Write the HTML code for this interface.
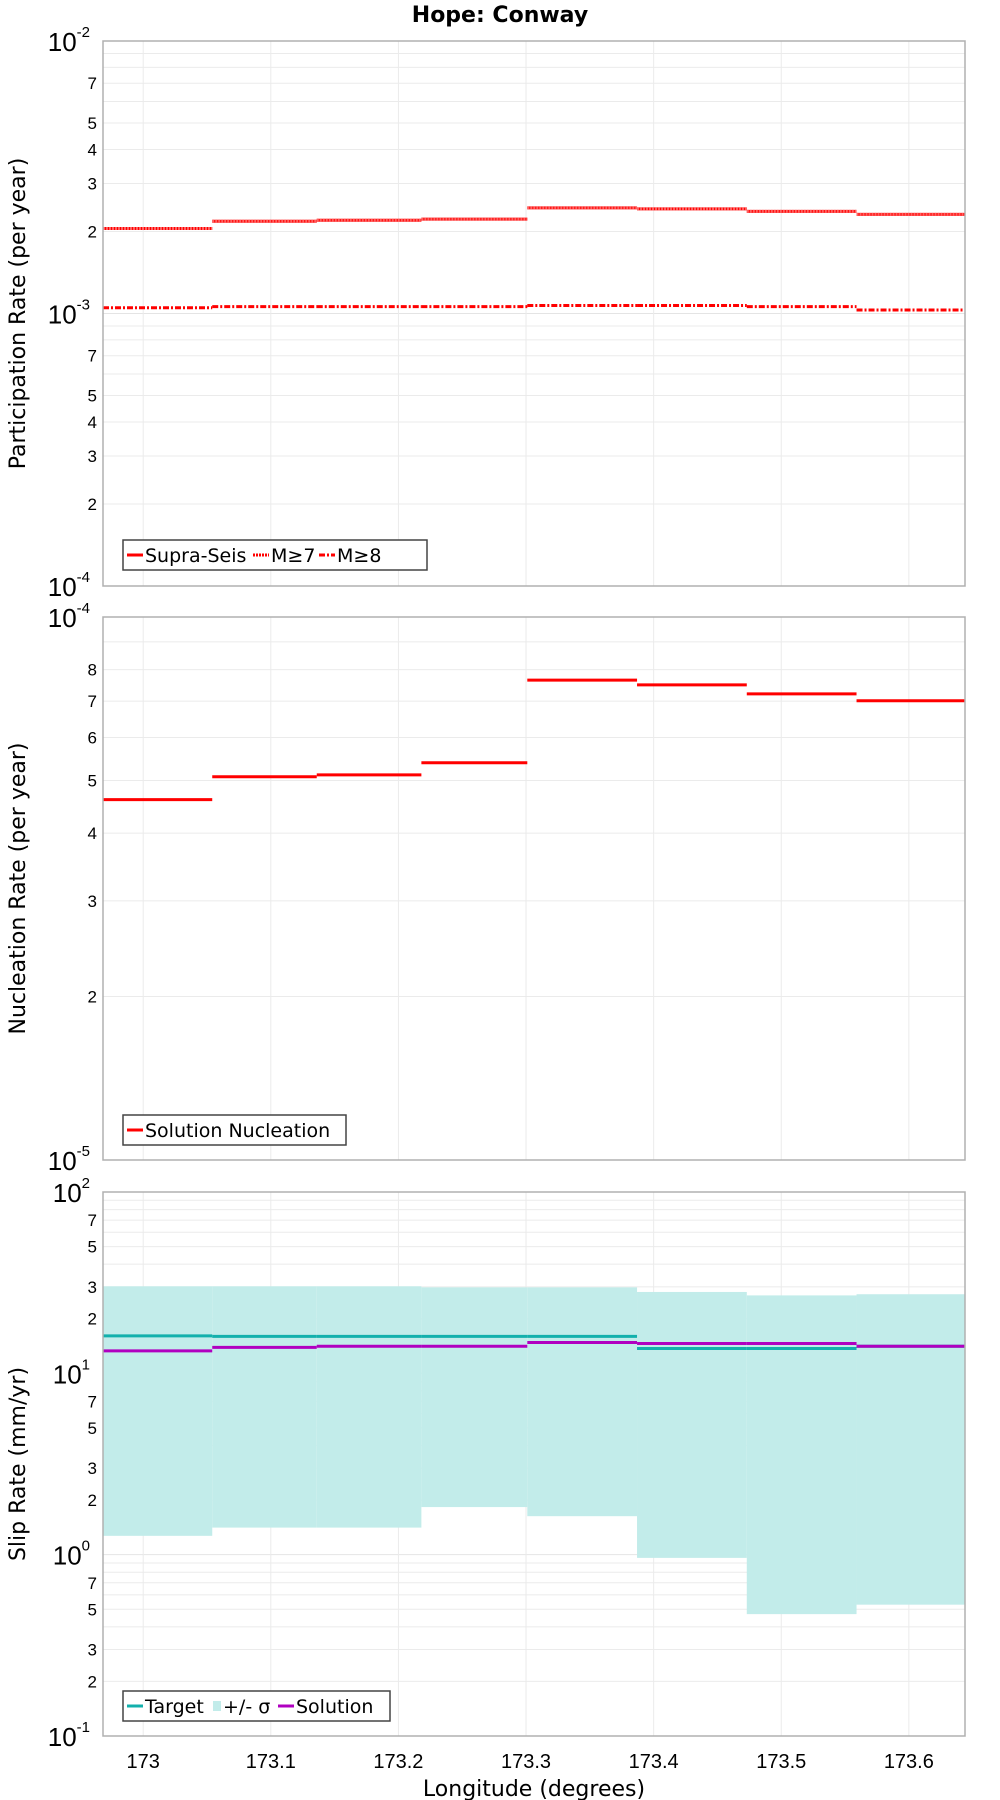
<!DOCTYPE html>
<html><head><meta charset="utf-8"><style>
html,body{margin:0;padding:0;background:#fff}
svg{display:block;font-family:"DejaVu Sans","Liberation Sans",sans-serif}
</style></head><body>
<svg id="chart" width="1000" height="1800" viewBox="0 0 1000 1800" xmlns="http://www.w3.org/2000/svg">
<text x="500" y="22" text-anchor="middle" font-size="22" font-weight="bold">Hope: Conway</text>
</svg>
<script>
const binEdges=[172.9685,173.0541,173.136,173.218,173.301,173.387,173.473,173.559,173.644];
const xTicks=[173,173.1,173.2,173.3,173.4,173.5,173.6];
const xTickLabels=["173","173.1","173.2","173.3","173.4","173.5","173.6"];
const supraSeis=[2.05e-3,2.18e-3,2.2e-3,2.22e-3,2.44e-3,2.42e-3,2.37e-3,2.31e-3];
const m7=[2.05e-3,2.18e-3,2.2e-3,2.22e-3,2.44e-3,2.42e-3,2.37e-3,2.31e-3];
const m8=[1.05e-3,1.06e-3,1.06e-3,1.06e-3,1.07e-3,1.07e-3,1.06e-3,1.03e-3];
const nucleation=[4.61e-5,5.08e-5,5.12e-5,5.39e-5,7.65e-5,7.5e-5,7.22e-5,7.01e-5];
const slipTarget=[16.1,16.0,16.0,16.0,16.0,13.7,13.7,14.1];
const slipSolution=[13.3,13.9,14.1,14.1,14.8,14.6,14.6,14.1];
const slipUpper=[30.2,30.2,30.2,29.8,29.8,28.1,26.9,27.3];
const slipLower=[1.27,1.41,1.41,1.83,1.63,0.96,0.47,0.53];

const NS="http://www.w3.org/2000/svg";
const svg=document.getElementById('chart');
const L=103,R=965;
const xMin=172.9685,xMax=173.644;
function xs(v){return L+(v-xMin)/(xMax-xMin)*(R-L);}
function mk(tag,attrs,parent){const e=document.createElementNS(NS,tag);for(const k in attrs)e.setAttribute(k,attrs[k]);(parent||svg).appendChild(e);return e;}

const panels=[
 {top:41,bot:586,lo:-4,hi:-2,minors:[2,3,4,5,7],title:"Participation Rate (per year)",name:"participation"},
 {top:617,bot:1160,lo:-5,hi:-4,minors:[2,3,4,5,6,7,8],title:"Nucleation Rate (per year)",name:"nucleation"},
 {top:1192,bot:1736,lo:-1,hi:2,minors:[2,3,5,7],title:"Slip Rate (mm/yr)",name:"slip"}
];
panels.forEach(p=>{
 p.ys=v=>p.bot-(Math.log10(v)-p.lo)/(p.hi-p.lo)*(p.bot-p.top);
 const g=mk('g',{});
 
 
 p.g=g;
 // grid
 for(let d=p.lo;d<p.hi;d++){for(let m=2;m<=9;m++){const y=p.ys(m*Math.pow(10,d));
  const ln=mk('line',{x1:L,x2:R,y1:y,y2:y,stroke:'#ebebeb','stroke-width':1},g);
  }}
 for(let d=p.lo+1;d<p.hi;d++){const y=p.ys(Math.pow(10,d));mk('line',{x1:L,x2:R,y1:y,y2:y,stroke:'#e4e4e4','stroke-width':1},g);}
 xTicks.forEach(t=>{const ln=mk('line',{x1:xs(t),x2:xs(t),y1:p.top,y2:p.bot,stroke:'#ebebeb','stroke-width':1},g);
  });
 // y labels
 for(let d=p.lo;d<=p.hi;d++){const y=p.ys(Math.pow(10,d));
  const t=mk('text',{x:90,y:y+10,'text-anchor':'end','font-size':26,'font-family':'Liberation Sans, sans-serif'},g);
  
  t.textContent='10';
  const s=mk('tspan',{'font-size':15,dy:-14},t);s.textContent=String(d);}
 for(let d=p.lo;d<p.hi;d++){p.minors.forEach(m=>{const y=p.ys(m*Math.pow(10,d));
  const t=mk('text',{x:97,y:y+6,'text-anchor':'end','font-size':17,'font-family':'Liberation Sans, sans-serif'},g);
  t.textContent=String(m);});}
 const cy=(p.top+p.bot)/2;
 const at=mk('text',{x:0,y:0,transform:`translate(25,${cy}) rotate(-90)`,'text-anchor':'middle','font-size':22},g);
 at.textContent=p.title;
});
function steps(p,vals,attrs,name){for(let i=0;i<vals.length;i++){const y=p.ys(vals[i]);
 const ln=mk('line',Object.assign({x1:xs(binEdges[i]),x2:xs(binEdges[i+1]),y1:y,y2:y},attrs),p.g);
 }}
// panel 1
const P1=panels[0],P2=panels[1],P3=panels[2];
steps(P1,supraSeis,{stroke:'#ff0000','stroke-width':3},'supra-seis-step');
steps(P1,m7,{stroke:'#ff6060','stroke-width':3,'stroke-dasharray':'2 1'},'m7-step');
steps(P1,m8,{stroke:'#ff0000','stroke-width':3,'stroke-dasharray':'6 2 2 2'},'m8-step');
// panel 2
steps(P2,nucleation,{stroke:'#ff0000','stroke-width':3},'nucleation-step');
// panel 3 band
for(let i=0;i<slipUpper.length;i++){const y1=P3.ys(slipUpper[i]),y2=P3.ys(slipLower[i]);
 const r=mk('rect',{x:xs(binEdges[i]),y:y1,width:xs(binEdges[i+1])-xs(binEdges[i]),height:y2-y1,fill:'#c2ecea'},P3.g);
 }
steps(P3,slipTarget,{stroke:'#13b0ac','stroke-width':3},'target-step');
steps(P3,slipSolution,{stroke:'#b000c0','stroke-width':3},'solution-step');
// frames
panels.forEach(p=>{const r=mk('rect',{x:L,y:p.top,width:R-L,height:p.bot-p.top,fill:'none',stroke:'#b0b0b0','stroke-width':1.5},p.g);
 });
// x ticks
xTicks.forEach((t,i)=>{const tx=mk('text',{x:xs(t),y:1768,'text-anchor':'middle','font-size':20,'font-family':'Liberation Sans, sans-serif'});
 tx.textContent=xTickLabels[i];});
const xt=mk('text',{x:534,y:1796,'text-anchor':'middle','font-size':22});
xt.textContent='Longitude (degrees)';
// legends
function legend(p,y,w,items){const g=mk('g',{},p.g);
 
 mk('rect',{x:123,y:y,width:w,height:30,fill:'#fff',stroke:'#444','stroke-width':1.5},g);
 let x=127;items.forEach(it=>{
  if(it.rect){mk('rect',{x:x,y:y+10,width:8,height:10,fill:it.color},g);x+=10;}
  else{mk('line',Object.assign({x1:x,x2:x+16,y1:y+15,y2:y+15,stroke:it.color,'stroke-width':3},it.dash?{'stroke-dasharray':it.dash}:{}),g);x+=18;}
  const t=mk('text',{x:x,y:y+22,'font-size':19},g);
  
  t.textContent=it.label;x+=it.w;});}
legend(P1,540,304,[{color:'#ff0000',label:'Supra-Seis',w:108},{color:'#ff0000',dash:'2 1',label:'M≥7',w:48},{color:'#ff0000',dash:'6 2 2 2',label:'M≥8',w:50}]);
legend(P2,1115,223,[{color:'#ff0000',label:'Solution Nucleation',w:200}]);
legend(P3,1691,267,[{color:'#13b0ac',label:'Target',w:68},{color:'#c2ecea',rect:true,label:'+/- σ',w:55},{color:'#b000c0',label:'Solution',w:90}]);
</script>
</body></html>
